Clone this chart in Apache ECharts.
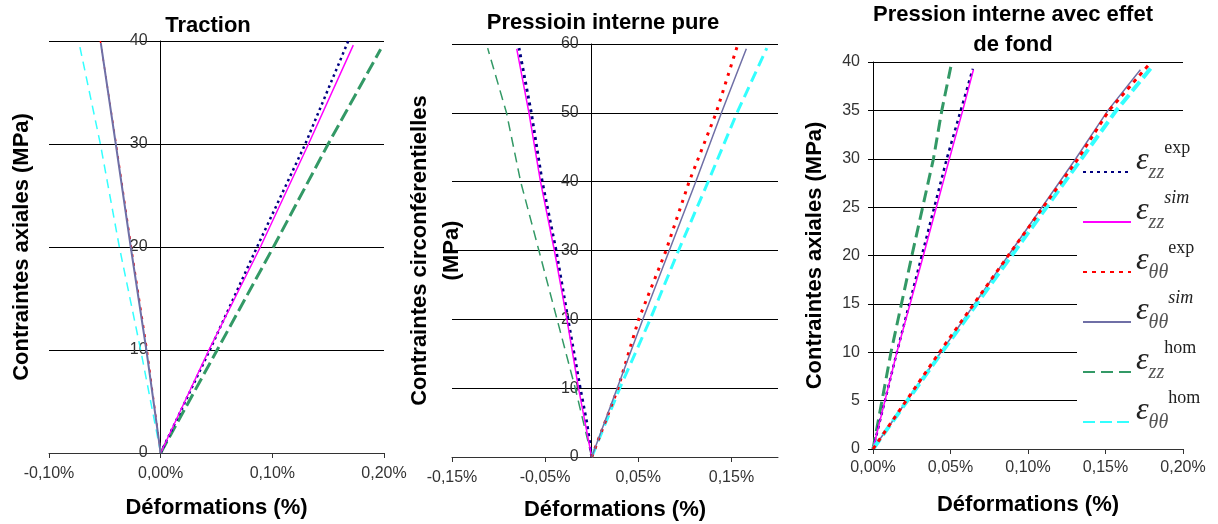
<!DOCTYPE html>
<html><head><meta charset="utf-8">
<script src="https://cdn.jsdelivr.net/npm/echarts@6/dist/echarts.min.js"></script>
<style>html,body{margin:0;padding:0;background:#fff}#c{width:1218px;height:524px}</style>
</head><body><div id="c"></div><script>
// ---------- Titles & axis names ----------
const titles = ['Traction', 'Pressioin interne pure', 'Pression interne avec effet\nde fond'];
const yNames = ['Contraintes axiales (MPa)', 'Contraintes circonférentielles\n(MPa)', 'Contraintes axiales (MPa)'];
const xName = 'Déformations (%)';

// ---------- Chart 1 : Traction (strain %, stress MPa) ----------
const t_zzExp_x = [0, 0.044, 0.0863, 0.1295, 0.168];
const t_zzExp_y = [0, 10, 20, 30, 40];
const t_zzSim_x = [0, 0.0432, 0.0893, 0.1324, 0.1725];
const t_zzSim_y = [0, 10, 20, 30, 39.6];
const t_zzHom_x = [0, 0.0506, 0.101, 0.150, 0.197];
const t_zzHom_y = [0, 10, 20, 30, 39.2];
const t_ttExp_x = [0, -0.0120, -0.0262, -0.0398, -0.0540];
const t_ttExp_y = [0, 10, 20, 30, 40];
const t_ttSim_x = [0, -0.0128, -0.0268, -0.0402, -0.0536];
const t_ttSim_y = [0, 10, 20, 30, 39.8];
const t_ttHom_x = [0, -0.0179, -0.037, -0.054, -0.0723];
const t_ttHom_y = [0, 10, 20, 30, 39.4];

// ---------- Chart 2 : Pression interne pure ----------
const p_zzExp_x = [0, -0.0053, -0.0124, -0.0255, -0.0383, -0.0532, -0.0649, -0.0781];
const p_zzExp_y = [0, 5, 10, 20, 30, 40, 50, 59.4];
const p_zzSim_x = [0, -0.0142, -0.0266, -0.0401, -0.055, -0.0674, -0.0805];
const p_zzSim_y = [0, 10, 20, 30, 40, 50, 59.3];
const p_zzHom_x = [0, -0.0177, -0.0372, -0.0567, -0.0763, -0.0915, -0.1117];
const p_zzHom_y = [0, 10, 20, 30, 40, 50, 59.4];
const p_ttExp_x = [0, 0.0283, 0.0504, 0.0798, 0.1046, 0.1336, 0.157];
const p_ttExp_y = [0, 10, 20, 30, 40, 50, 60];
const p_ttSim_x = [0, 0.0273, 0.0549, 0.0833, 0.1117, 0.1393, 0.166];
const p_ttSim_y = [0, 10, 20, 30, 40, 50, 59.3];
const p_ttHom_x = [0, 0.0301, 0.0628, 0.0932, 0.125, 0.156, 0.188];
const p_ttHom_y = [0, 10, 20, 30, 40, 50, 59.4];

// ---------- Chart 3 : Pression interne avec effet de fond ----------
const f_zzExp_x = [0, 0.0154, 0.0315, 0.0476, 0.0566, 0.0644];
const f_zzExp_y = [0, 10, 20, 30, 35, 39.3];
const f_zzSim_x = [0, 0.0154, 0.0325, 0.0493, 0.0579, 0.0648];
const f_zzSim_y = [0, 10, 20, 30, 35, 39.2];
const f_zzHom_x = [0, 0.0116, 0.0251, 0.039, 0.0444, 0.0502];
const f_zzHom_y = [0, 10, 20, 30, 35, 39.5];
const f_ttExp_x = [0, 0.0429, 0.0873, 0.1323, 0.1523, 0.1795];
const f_ttExp_y = [0, 10, 20, 30, 35, 40];
const f_ttSim_x = [0, 0.0438, 0.0873, 0.1308, 0.1516, 0.1725];
const f_ttSim_y = [0, 10, 20, 30, 35, 39.2];
const f_ttHom_x = [0, 0.0444, 0.0895, 0.1345, 0.157, 0.1795];
const f_ttHom_y = [0, 10, 20, 30, 35, 39.4];

// ---------- Legend ----------
const legendNames = ['zzExp', 'zzSim', 'ttExp', 'ttSim', 'zzHom', 'ttHom'];
const legendSub = {zzExp: 'zz', zzSim: 'zz', ttExp: 'θθ', ttSim: 'θθ', zzHom: 'zz', ttHom: 'θθ'};
const legendSup = {zzExp: 'exp', zzSim: 'sim', ttExp: 'exp', ttSim: 'sim', zzHom: 'hom', ttHom: 'hom'};

const C = {navy: '#000080', mag: '#ff00ff', red: '#ff0000', pur: '#6f6fa6', grn: '#339966', cyan: '#33ffff'};

function pts(xs, ys) { return xs.map((x, i) => [x, ys[i]]); }
function line(name, gi, xs, ys, color, width, dash, z) {
  return {
    name: name, type: 'line', xAxisIndex: gi, yAxisIndex: gi, z: z || 2,
    data: pts(xs, ys), symbol: 'none', showSymbol: false, silent: true,
    lineStyle: {color: color, width: width, type: dash || 'solid', cap: 'butt'},
    itemStyle: {color: color}
  };
}
const pctFmt = v => (Math.round(v * 100) / 100).toFixed(2).replace('.', ',').replace('-0,00', '0,00') + '%';
const FONT = 'Liberation Sans';

const grids = [
  {left: 49, top: 41, width: 335, height: 412},
  {left: 452, top: 44, width: 326, height: 413},
  {left: 873, top: 62, width: 310, height: 387}
].map(g => Object.assign(g, {containLabel: false, outerBoundsMode: 'none'}));

const xRanges = [[-0.1, 0.2], [-0.15, 0.2], [0, 0.2]];
// y axis sits on the x = 0 line: offset derived from the x scale
const zeroOffset = i => -(0 - xRanges[i][0]) / (xRanges[i][1] - xRanges[i][0]) * grids[i].width;

function xAxis(gi, interval, custom, labelMargin, nameGap) {
  const ax = {
    type: 'value', gridIndex: gi, min: xRanges[gi][0], max: xRanges[gi][1], interval: interval,
    name: xName, nameLocation: 'middle', nameGap: nameGap,
    nameTextStyle: {fontFamily: FONT, fontWeight: 'bold', fontSize: 22, color: '#000'},
    axisLine: {show: true, onZero: false, lineStyle: {color: '#333', width: 1}},
    axisTick: {show: true, length: 5, lineStyle: {color: '#333'}},
    axisLabel: {formatter: pctFmt, fontFamily: FONT, fontSize: 16, color: '#333', margin: labelMargin, showMaxLabel: true, showMinLabel: true},
    splitLine: {show: false}
  };
  if (custom) { ax.axisTick.customValues = custom; ax.axisLabel.customValues = custom; }
  return ax;
}
function yAxis(gi, max, interval, name, nameGap, ticks, lh) {
  return {
    type: 'value', gridIndex: gi, min: 0, max: max, interval: interval,
    offset: zeroOffset(gi),
    name: name, nameLocation: 'middle', nameGap: nameGap, nameRotate: 90,
    nameTextStyle: {fontFamily: FONT, fontWeight: 'bold', fontSize: 22, color: '#000', lineHeight: lh},
    axisLine: {show: true, onZero: false, lineStyle: {color: '#000', width: 1}},
    axisTick: {show: ticks, length: 5, lineStyle: {color: '#000'}},
    axisLabel: {fontFamily: FONT, fontSize: 16, color: '#333', margin: 13},
    splitLine: {show: true, lineStyle: {color: '#000', width: 1}}
  };
}

const series = [
  // chart 3 first (legend icons come from these)
  line('zzHom', 2, f_zzHom_x, f_zzHom_y, C.grn, 3, [12, 6], 6),
  line('zzExp', 2, f_zzExp_x, f_zzExp_y, C.navy, 2.5, [3, 4], 6),
  line('zzSim', 2, f_zzSim_x, f_zzSim_y, C.mag, 1.5, null, 6),
  line('ttSim', 2, f_ttSim_x, f_ttSim_y, C.pur, 1.5, null, 6),
  line('ttHom', 2, f_ttHom_x, f_ttHom_y, C.cyan, 4, [12, 5], 6),
  line('ttExp', 2, f_ttExp_x, f_ttExp_y, C.red, 3, [4, 5], 6),
  // chart 1
  line('zzHom', 0, t_zzHom_x, t_zzHom_y, C.grn, 3, [13, 5]),
  line('zzExp', 0, t_zzExp_x, t_zzExp_y, C.navy, 2.5, [2.5, 3.5]),
  line('zzSim', 0, t_zzSim_x, t_zzSim_y, C.mag, 1.5),
  line('ttHom', 0, t_ttHom_x, t_ttHom_y, C.cyan, 1.5, [9, 6]),
  line('ttExp', 0, t_ttExp_x, t_ttExp_y, C.red, 1.5, [3, 6]),
  line('ttSim', 0, t_ttSim_x, t_ttSim_y, C.pur, 2),
  // chart 2
  line('zzHom', 1, p_zzHom_x, p_zzHom_y, C.grn, 1.5, [10, 6]),
  line('zzExp', 1, p_zzExp_x, p_zzExp_y, C.navy, 3, [3, 4]),
  line('zzSim', 1, p_zzSim_x, p_zzSim_y, C.mag, 1.5),
  line('ttHom', 1, p_ttHom_x, p_ttHom_y, C.cyan, 3, [11, 6]),
  line('ttExp', 1, p_ttExp_x, p_ttExp_y, C.red, 3, [3, 6]),
  line('ttSim', 1, p_ttSim_x, p_ttSim_y, C.pur, 1.5)
];

const option = {
  animation: false,
  backgroundColor: '#fff',
  title: [
    {text: titles[0], left: 208, top: 11, textAlign: 'center', padding: 0},
    {text: titles[1], left: 603, top: 8, textAlign: 'center', padding: 0},
    {text: titles[2], left: 1013, top: 0, textAlign: 'center', padding: 0}
  ].map(t => Object.assign(t, {textStyle: {fontFamily: FONT, fontWeight: 'bold', fontSize: 22, color: '#000', lineHeight: 30}})),
  grid: grids,
  xAxis: [
    xAxis(0, 0.1, null, 13, 44),
    xAxis(1, 0.05, [-0.15, -0.05, 0.05, 0.15], 13, 42),
    Object.assign(xAxis(2, 0.05, null, 11, 45), {z: 10})
  ],
  yAxis: [
    yAxis(0, 40, 10, yNames[0], 127, false, 24),
    yAxis(1, 60, 10, yNames[1], 124, false, 32),
    yAxis(2, 40, 5, yNames[2], 46, true, 24)
  ],
  legend: {
    data: legendNames, orient: 'vertical', left: 1077, top: 134,
    backgroundColor: '#fff', padding: [5, 40, 5, 5], z: 4,
    itemWidth: 48, itemHeight: 14, itemGap: 6, selectedMode: false,
    itemStyle: {opacity: 0},
    formatter: n => '{e|ε}{sub|' + legendSub[n] + '}{' + (legendSup[n] === 'sim' ? 'supi' : 'sup') + '|' + legendSup[n] + '}',
    textStyle: {
      padding: [0, 0, 22, 0],
      rich: {
        e: {fontFamily: 'Liberation Serif', fontStyle: 'italic', fontSize: 32, lineHeight: 44, color: '#222', verticalAlign: 'middle'},
        sub: {fontFamily: 'Liberation Serif', fontStyle: 'italic', fontSize: 20, lineHeight: 26, color: '#555', verticalAlign: 'bottom'},
        sup: {fontFamily: 'Liberation Serif', fontSize: 18, lineHeight: 20, color: '#222', verticalAlign: 'top'},
        supi: {fontFamily: 'Liberation Serif', fontStyle: 'italic', fontSize: 18, lineHeight: 20, color: '#222', verticalAlign: 'top'}
      }
    }
  },
  series: series
};
const chart = echarts.init(document.getElementById('c'), null, {renderer: 'canvas'});
chart.setOption(option);
</script></body></html>
